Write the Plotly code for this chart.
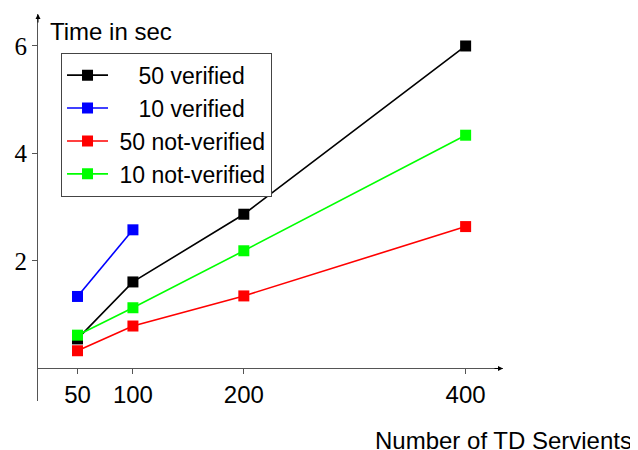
import plotly.graph_objects as go

servients = [50, 100, 200, 400]
servients_10v = [50, 100]
verified_50 = [0.55, 1.61, 2.87, 6.0]
verified_10 = [1.34, 2.58]
not_verified_50 = [0.33, 0.79, 1.35, 2.64]
not_verified_10 = [0.62, 1.13, 2.19, 4.34]
y_ticks = [2, 4, 6]
x_ticks = [50, 100, 200, 400]

SANS = "Liberation Sans, Arial, sans-serif"
SERIF = "Liberation Serif, Times New Roman, serif"
NB = "\u00a0"

fig = go.Figure()
series = [
    (servients, verified_50, "black", NB * 4 + "50 verified"),
    (servients_10v, verified_10, "#0000ff", NB * 4 + "10 verified"),
    (servients, not_verified_50, "#ff0000", NB + "50 not-verified"),
    (servients, not_verified_10, "#00ff00", NB + "10 not-verified"),
]
for xs, ys, col, name in series:
    fig.add_trace(go.Scatter(
        x=xs, y=ys, mode="lines+markers", name=name,
        line=dict(color=col, width=1.6),
        marker=dict(symbol="square", size=11, color=col, line=dict(width=0)),
    ))

fig.update_layout(
    width=630, height=442,
    margin=dict(l=30, r=135, t=6, b=49),
    plot_bgcolor="white", paper_bgcolor="white",
    showlegend=True,
    legend=dict(
        x=0.0495, y=0.90, xanchor="left", yanchor="top",
        bordercolor="#444", borderwidth=1, bgcolor="white",
        itemwidth=41,
        font=dict(family=SANS, size=23, color="black"),
    ),
    xaxis=dict(
        range=[14.4, 433.7], tickvals=x_ticks, showgrid=False, zeroline=False,
        showline=True, linecolor="#555", linewidth=1,
        ticks="outside", ticklen=5, tickcolor="#555",
        anchor="free", position=0.084,
        tickfont=dict(family=SANS, size=24, color="black"),
    ),
    yaxis=dict(
        range=[-0.605, 6.595], tickvals=y_ticks, showgrid=False,
        zeroline=False, showline=True, linecolor="#555", linewidth=1,
        ticks="outside", ticklen=5, tickcolor="#555",
        tickfont=dict(family=SERIF, size=25, color="black"),
    ),
    annotations=[
        dict(x=1, y=0.084, xref="paper", yref="paper", text="", showarrow=True,
             ax=-10, ay=0, axref="pixel", ayref="pixel", arrowhead=2,
             arrowsize=1, arrowwidth=1, arrowcolor="black"),
        dict(x=0, y=1, xref="paper", yref="paper", text="", showarrow=True,
             ax=0, ay=10, axref="pixel", ayref="pixel", arrowhead=2,
             arrowsize=1, arrowwidth=1, arrowcolor="black"),
        dict(x=0.022, y=0.955, xref="paper", yref="paper", text="Time in sec",
             showarrow=False, xanchor="left", yanchor="middle",
             font=dict(family=SANS, size=24, color="black")),
        dict(x=1.282, y=-0.102, xref="paper", yref="paper", text="Number of TD Servients",
             showarrow=False, xanchor="right", yanchor="middle",
             font=dict(family=SANS, size=24, color="black")),
    ],
)

fig.write_html("out.html")
